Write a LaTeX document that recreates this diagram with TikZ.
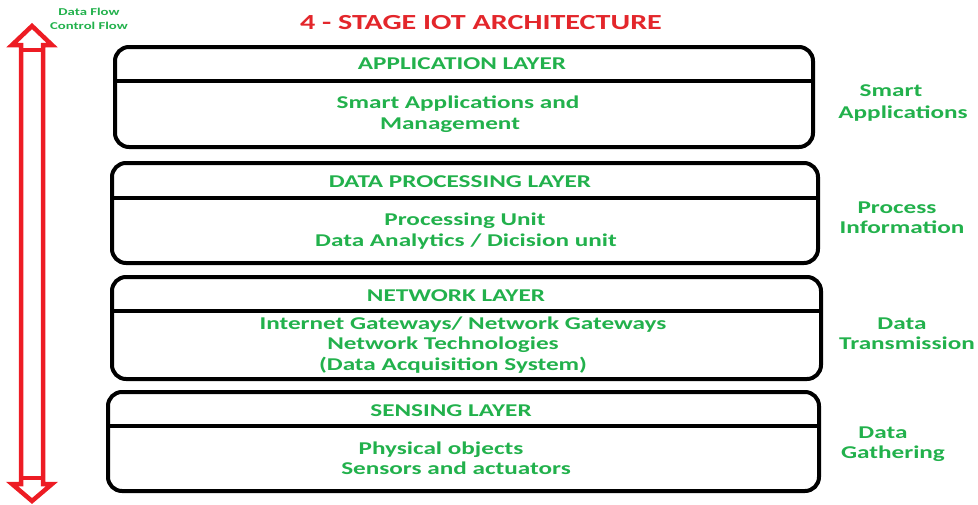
\documentclass[tikz,border=0pt]{standalone}
\usepackage{fontspec}
\setmainfont{Carlito}[FakeStretch=1.4]
\definecolor{txtgreen}{HTML}{22B14C}
\definecolor{titlered}{HTML}{E3262B}
\definecolor{arrred}{HTML}{ED1C24}
\begin{document}
\begin{tikzpicture}[x=1pt,y=-1pt,
  layerbox/.style={draw=black,line width=4pt,rounded corners=14pt},
  divider/.style={draw=black,line width=3.5pt},
  txt/.style={text=txtgreen,font=\bfseries\fontsize{18}{21}\selectfont,inner sep=0pt,anchor=base},
  legend/.style={text=txtgreen,font=\bfseries\fontsize{10.5}{12}\selectfont,inner sep=0pt,anchor=base}]
\useasboundingbox (0,0) rectangle (978,504);
% title
\node[text=titlered,font=\bfseries\fontsize{21.5}{24}\selectfont,inner sep=0pt,anchor=base] (title) at (481,29.5) {4 - STAGE IOT ARCHITECTURE};
% legend
\node[legend] (lg1) at (89,15.5) {Data Flow};
\node[legend] (lg2) at (89,29.5) {Control Flow};
% double arrow
\draw[arrred,line width=4.5pt,line join=miter]
  (32,26) -- (52,45) -- (43,45) -- (43,484) -- (52,484) -- (32,501) -- (12,484) -- (21,484) -- (21,45) -- (12,45) -- cycle;
\draw[arrred,line width=3.5pt] (21,50) -- (43,50);
\draw[arrred,line width=3.5pt] (21,478) -- (43,478);
% boxes
\draw[layerbox] (115,47) rectangle (813,147);
\draw[divider] (115,81) -- (813,81);
\draw[layerbox] (112,163) rectangle (818,263);
\draw[divider] (112,198) -- (818,198);
\draw[layerbox] (112,277) rectangle (821,379);
\draw[divider] (112,311) -- (821,311);
\draw[layerbox] (108,392) rectangle (819,491);
\draw[divider] (106,426) -- (821,426);
% layer 1
\node[txt] (h1) at (462,69) {APPLICATION LAYER};
\node[txt] (b1a) at (458,108) {Smart Applications and};
\node[txt] (b1b) at (450,129) {Management};
% layer 2
\node[txt] (h2) at (460,187) {DATA PROCESSING LAYER};
\node[txt] (b2a) at (465,225) {Processing Unit};
\node[txt] (b2b) at (466,246) {Data Analytics / Dicision unit};
% layer 3
\node[txt] (h3) at (456,301) {NETWORK LAYER};
\node[txt] (b3a) at (463,329) {Internet Gateways/ Network Gateways};
\node[txt] (b3b) at (443,349) {Network Technologies};
\node[txt] (b3c) at (453,370) {(Data Acquisition System)};
% layer 4
\node[txt] (h4) at (451,416) {SENSING LAYER};
\node[txt] (b4a) at (441,454) {Physical objects};
\node[txt] (b4b) at (456,474) {Sensors and actuators};
% side labels
\node[txt] (s1a) at (891,96) {Smart};
\node[txt] (s1b) at (903,118) {Applications};
\node[txt] (s2a) at (897,213) {Process};
\node[txt] (s2b) at (902,233) {Information};
\node[txt] (s3a) at (902,329) {Data};
\node[txt] (s3b) at (907,349) {Transmission};
\node[txt] (s4a) at (883,438) {Data};
\node[txt] (s4b) at (893,458) {Gathering};
\end{tikzpicture}
\end{document}
